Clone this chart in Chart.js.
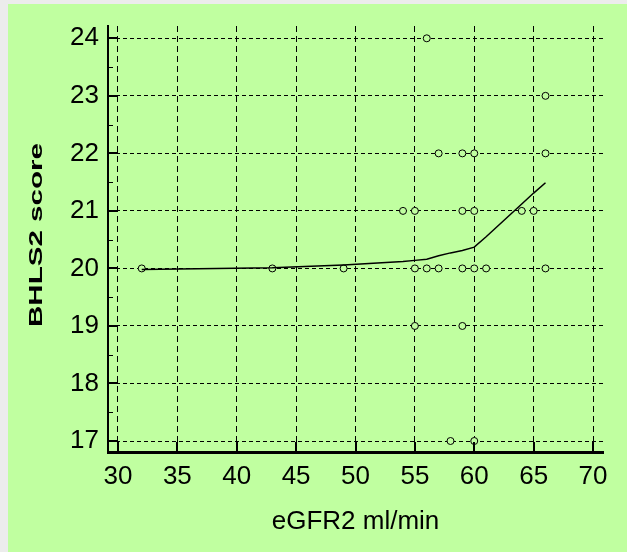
<!DOCTYPE html>
<html>
<head>
<meta charset="utf-8">
<script src="https://cdn.jsdelivr.net/npm/chart.js@4"></script>
<style>
  html, body { margin: 0; padding: 0; }
  body { background: #ececec; width: 627px; height: 552px; position: relative; overflow: hidden; }
  #bg { position: absolute; left: 8px; top: 4px; right: 0; bottom: 0; background: #c0ffa0; }
  #c { position: absolute; left: 0; top: 0; }
</style>
</head>
<body>
<div id="bg"></div>
<canvas id="c" width="627" height="552"></canvas>
<script>
// ---- data ----
const xTicks = [30, 35, 40, 45, 50, 55, 60, 65, 70];
const yTicks = [17, 18, 19, 20, 21, 22, 23, 24];

const pointsX = [56, 66, 57, 59, 60, 66, 54, 55, 59, 60, 64, 65, 32, 43, 49, 55, 56, 57, 59, 60, 61, 66, 55, 59, 58, 60];
const pointsY = [24, 23, 22, 22, 22, 22, 21, 21, 21, 21, 21, 21, 20, 20, 20, 20, 20, 20, 20, 20, 20, 20, 19, 19, 17, 17];

const fitX = [32, 43, 49, 54, 55, 56, 57, 58, 59, 60, 61, 64, 65, 66];
const fitY = [19.98, 20.01, 20.06, 20.12, 20.14, 20.16, 20.22, 20.27, 20.31, 20.37, 20.55, 21.12, 21.31, 21.49];

const xTitle = 'eGFR2 ml/min';
const yTitle = 'BHLS2 score';

const GREEN = '#c0ffa0';
Chart.defaults.font.family = "'Liberation Sans', Arial, sans-serif";
Chart.defaults.color = '#000';

const inwardTicks = {
  id: 'inwardTicks',
  afterDraw(chart) {
    const {ctx, chartArea, scales} = chart;
    const xs = scales.x, ys = scales.y;
    ctx.save();
    ctx.strokeStyle = '#000';
    // major y ticks
    ctx.lineWidth = 2;
    yTicks.forEach(v => {
      const p = Math.round(ys.getPixelForValue(v));
      ctx.beginPath(); ctx.moveTo(chartArea.left, p); ctx.lineTo(chartArea.left + 10, p); ctx.stroke();
    });
    // minor y ticks (half units)
    ctx.lineWidth = 1;
    for (let i = 0; i < yTicks.length - 1; i++) {
      const v = (yTicks[i] + yTicks[i + 1]) / 2;
      const p = Math.round(ys.getPixelForValue(v)) + 0.5;
      ctx.beginPath(); ctx.moveTo(chartArea.left, p); ctx.lineTo(chartArea.left + 5, p); ctx.stroke();
    }
    // major x ticks
    ctx.lineWidth = 2;
    xTicks.forEach(v => {
      const p = Math.round(xs.getPixelForValue(v));
      ctx.beginPath(); ctx.moveTo(p, chartArea.bottom); ctx.lineTo(p, chartArea.bottom - 10); ctx.stroke();
    });
    // stretched y-axis title
    const t = chart.options.scales.y.title.text;
    ctx.font = "bold 18px 'Liberation Sans', Arial, sans-serif";
    const w = ctx.measureText(t).width;
    const cy = (chartArea.top + chartArea.bottom) / 2 - 4;
    ctx.translate(37.5, cy);
    ctx.rotate(-Math.PI / 2);
    ctx.scale(184 / w, 1);
    ctx.fillStyle = '#000';
    ctx.textAlign = 'center';
    ctx.textBaseline = 'middle';
    ctx.fillText(t, 0, 0);
    ctx.restore();
  }
};

new Chart(document.getElementById('c'), {
  type: 'scatter',
  data: {
    datasets: [
      {
        label: 'fit',
        data: fitX.map((x, i) => ({x, y: fitY[i]})),
        showLine: true,
        borderColor: '#000',
        borderWidth: 1.5,
        pointRadius: 0,
        tension: 0,
        order: 1
      },
      {
        label: 'points',
        data: pointsX.map((x, i) => ({x, y: pointsY[i]})),
        pointStyle: 'circle',
        pointRadius: 3.5,
        borderColor: '#000',
        borderWidth: 1,
        backgroundColor: GREEN,
        order: 2
      }
    ]
  },
  options: {
    responsive: false,
    animation: false,
    events: [],
    layout: { padding: { left: 0, top: 26, right: 24, bottom: 0 } },
    plugins: { legend: { display: false }, tooltip: { enabled: false } },
    scales: {
      x: {
        type: 'linear',
        min: 29.158, max: 70.842,
        afterBuildTicks: axis => { axis.ticks = xTicks.map(v => ({value: v})); },
        afterFit: s => { s.height = 100; },
        grid: { color: '#000', lineWidth: 1, drawTicks: false },
        border: { display: true, color: '#000', width: 3, dash: [6, 4] },
        ticks: { font: { size: 26 }, padding: 9, maxRotation: 0, autoSkip: false, color: '#000' },
        title: { display: true, text: xTitle, font: { size: 26 }, color: '#000', padding: { top: 0, bottom: 15 } }
      },
      y: {
        type: 'linear',
        min: 16.809, max: 24.214,
        afterBuildTicks: axis => { axis.ticks = yTicks.map(v => ({value: v})); },
        afterFit: s => { s.width = 108; },
        grid: { color: '#000', lineWidth: 1, drawTicks: false },
        border: { display: true, color: '#000', width: 2, dash: [4, 3] },
        ticks: { font: { size: 26 }, padding: 9, autoSkip: false, color: '#000' },
        title: { display: false, text: yTitle }
      }
    }
  },
  plugins: [inwardTicks]
});
</script>
</body>
</html>
